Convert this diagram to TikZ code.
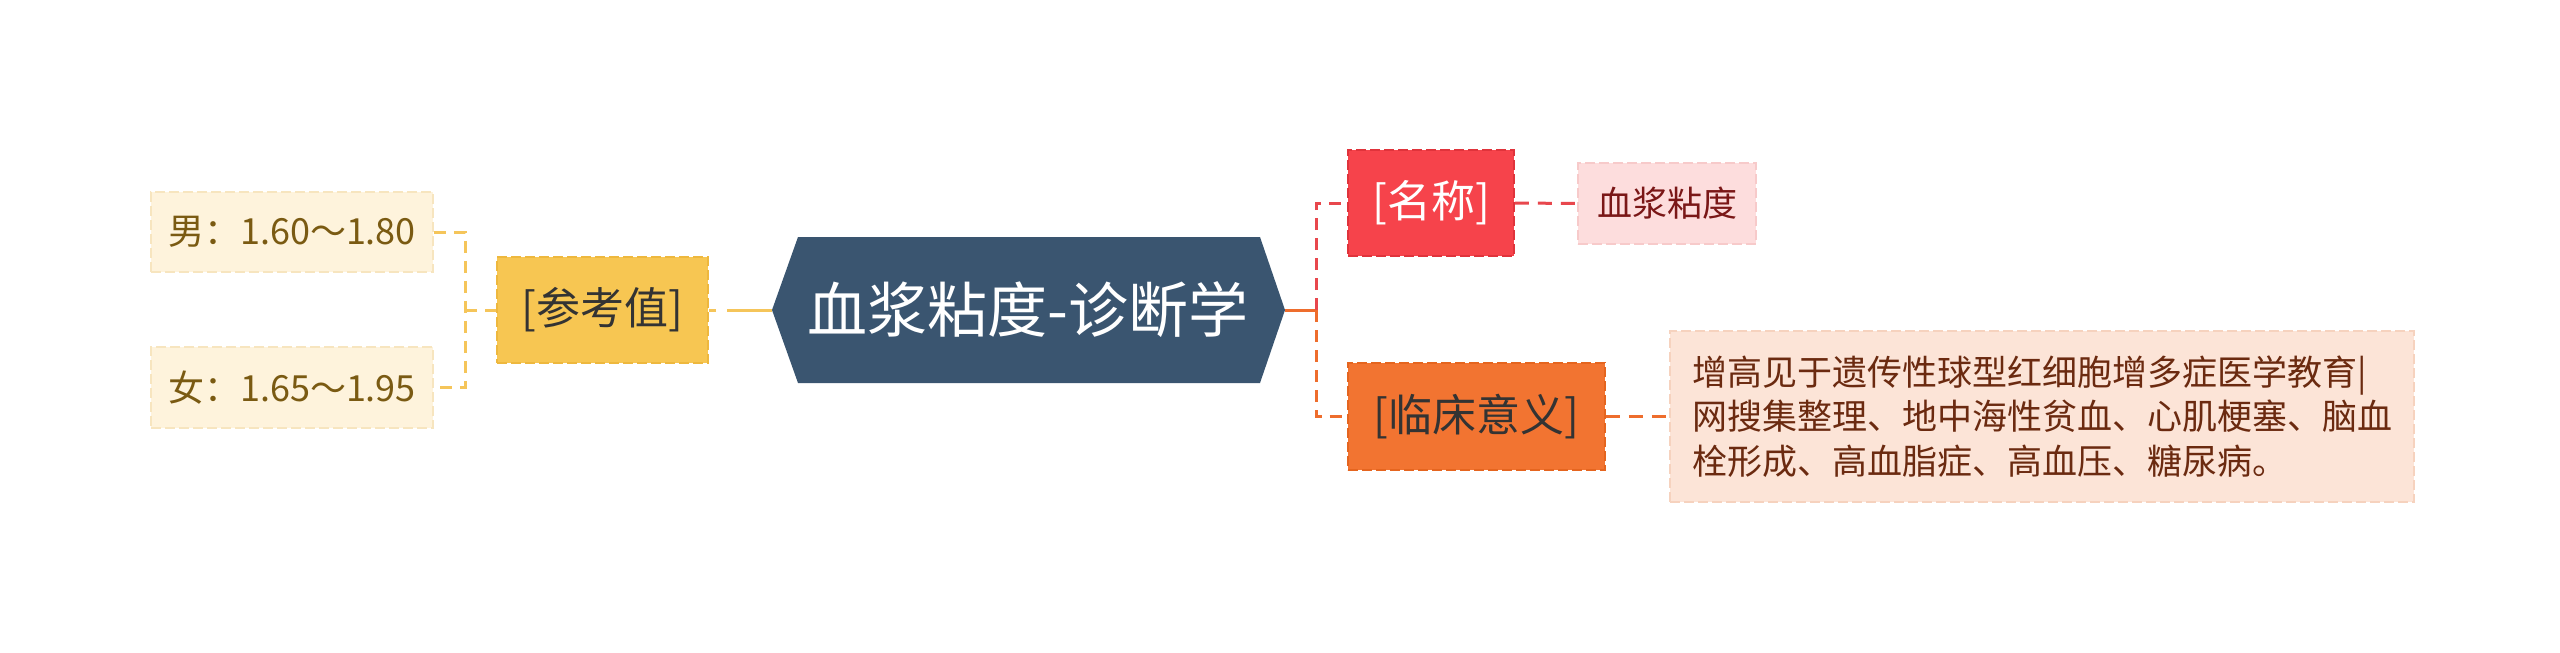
\documentclass[tikz,border=0pt]{standalone}
\usepackage{fontspec}
\setmainfont{Noto Sans CJK SC}
\definecolor{hexfill}{HTML}{3A5570}
\definecolor{ylw}{HTML}{F7C652}
\definecolor{ylwline}{HTML}{F5C55A}
\definecolor{ylwbd}{HTML}{EEB83E}
\definecolor{cream}{HTML}{FEF3DC}
\definecolor{creambd}{HTML}{F7E5BF}
\definecolor{creamtxt}{HTML}{7A5A12}
\definecolor{redf}{HTML}{F6434B}
\definecolor{redbd}{HTML}{E0333B}
\definecolor{redline}{HTML}{E8474D}
\definecolor{pinkf}{HTML}{FDDDDD}
\definecolor{pinkbd}{HTML}{F7CACA}
\definecolor{pinktxt}{HTML}{7A1717}
\definecolor{orf}{HTML}{F27431}
\definecolor{orbd}{HTML}{E5651F}
\definecolor{orline}{HTML}{EE6D2D}
\definecolor{peachf}{HTML}{FCE4D7}
\definecolor{peachbd}{HTML}{F6D2BE}
\definecolor{peachtxt}{HTML}{6B2A10}
\definecolor{darktxt}{HTML}{333333}
\begin{document}
\begin{tikzpicture}[x=1pt,y=-1pt,
  boxbase/.style={draw, dash pattern=on 10pt off 4pt, line width=1.6pt, inner sep=0pt, align=center},
  leafL/.style={boxbase, fill=cream, draw=creambd, text=creamtxt, font=\fontsize{36}{44}\selectfont, minimum width=282pt},
  lvlone/.style={boxbase, font=\fontsize{44}{52}\selectfont, minimum height=106pt},
  conn/.style={line width=3pt, dash pattern=on 14pt off 9pt},
  vconn/.style={line width=3pt, dash pattern=on 12pt off 8pt}]
\fill[white] (0,0) rectangle (2560,653);
\useasboundingbox (0,0) rectangle (2560,653);

% left leaves
\node[leafL, minimum height=80pt] (m) at (292,232) {男：1.60～1.80};
\node[leafL, minimum height=81pt] (f) at (292,387.5) {女：1.65～1.95};
% level one left
\node[lvlone, fill=ylw, draw=ylwbd, text=darktxt, minimum width=211pt] (ref) at (602.5,310) {[参考值]};

% root hexagon
\coordinate (rootW) at (772,310);
\coordinate (rootE) at (1285,310);
\fill[hexfill] (rootW) -- (798,237) -- (1260,237) -- (rootE) -- (1260,383) -- (798,383) -- cycle;
\node[text=white, font=\fontsize{60}{70}\selectfont, inner sep=0pt] (root) at (1028,310) {血浆粘度-诊断学};

% right level one
\node[lvlone, fill=redf, draw=redbd, text=white, minimum width=166pt] (name) at (1431,203) {[名称]};
\node[lvlone, fill=orf, draw=orbd, text=darktxt, minimum width=257pt, minimum height=107pt] (clin) at (1476.5,416.5) {[临床意义]};

% right leaves
\node[boxbase, fill=pinkf, draw=pinkbd, text=pinktxt, font=\fontsize{35}{44}\selectfont, minimum width=178pt, minimum height=81pt] (nameleaf) at (1667,203.5) {血浆粘度};
\node[boxbase, fill=peachf, draw=peachbd, text=peachtxt, font=\fontsize{35}{44.5}\selectfont, align=left, minimum width=744pt, minimum height=171pt] (clinleaf) at (2042,416.5) {增高见于遗传性球型红细胞增多症医学教育|\\网搜集整理、地中海性贫血、心肌梗塞、脑血\\栓形成、高血脂症、高血压、糖尿病。};

% left connectors
\coordinate (lj) at (465,310);
\draw[vconn, draw=ylwline] (m.east) -| (lj) |- (f.east);
\draw[vconn, draw=ylwline] (lj) -- (ref.west);
\draw[line width=3pt, draw=ylwline, dash pattern=on 45pt off 11pt] (rootW) -- (ref.east);

% right connectors
\coordinate (rj) at (1316,310);
\draw[line width=3pt, draw=orline] (rootE) -- (rj);
\draw[vconn, draw=redline] (rj) |- (name.west);
\draw[vconn, draw=orline] (rj) |- (clin.west);
\draw[conn, draw=redline] (name.east) -- (nameleaf.west);
\draw[conn, draw=orline] (clin.east) -- (clinleaf.west);
\end{tikzpicture}
\end{document}
